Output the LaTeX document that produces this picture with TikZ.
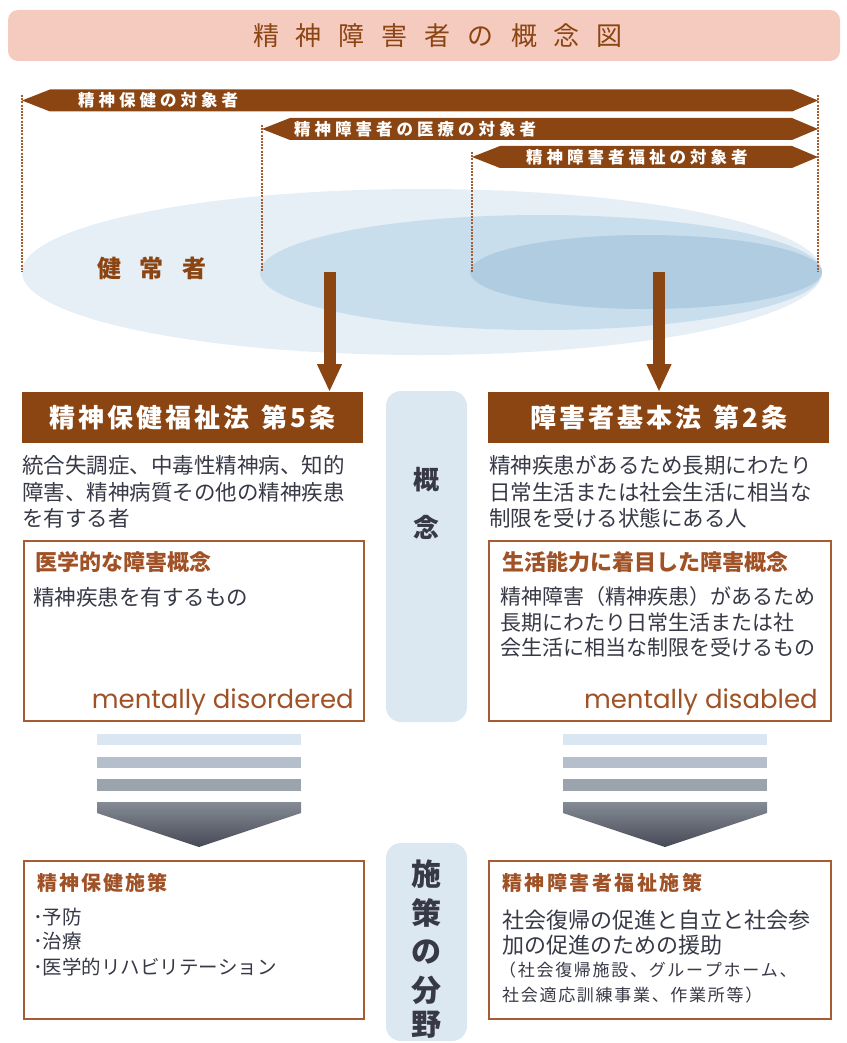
\documentclass[tikz,border=0pt]{standalone}
\usepackage{fontspec}
\setmainfont{Noto Sans CJK JP}
\newfontfamily\poppins{Poppins}
\usetikzlibrary{arrows.meta}
\definecolor{brn}{RGB}{139,69,19}
\definecolor{brnline}{RGB}{166,92,48}
\definecolor{brntxt}{RGB}{160,82,38}
\definecolor{pinkbg}{RGB}{246,203,191}
\definecolor{ell1}{RGB}{230,239,246}
\definecolor{ell2}{RGB}{201,222,237}
\definecolor{ell3}{RGB}{175,204,225}
\definecolor{colbg}{RGB}{220,232,241}
\definecolor{txtgray}{RGB}{55,57,70}
\definecolor{st1}{RGB}{218,231,242}
\definecolor{st2}{RGB}{180,191,203}
\definecolor{st3}{RGB}{155,163,173}
\definecolor{chevtop}{RGB}{133,139,149}
\definecolor{chevbot}{RGB}{70,74,86}
\def\lspend{}
\newcommand\lsp[2]{\def\lspsep{\hspace{#1}}\hspace{-#1}\lspaux#2\lspend}
\def\lspaux#1{\ifx#1\lspend\else\lspsep#1\expandafter\lspaux\fi}
\tikzset{
 barlbl/.style={anchor=west, inner sep=0, text=white, font=\fontsize{16.5}{16.5}\selectfont\bfseries},
 guide/.style={draw=brnline, line width=2pt, dash pattern=on 2pt off 1.2pt},
 hdr/.style={fill=brn, draw=none, anchor=north west, minimum width=341pt, minimum height=51pt, inner sep=0, text=white, font=\fontsize{26}{26}\selectfont\bfseries},
 desc/.style={anchor=west, inner sep=0, text=txtgray, font=\fontsize{21.5}{26}\selectfont},
 cbox/.style={draw=brnline, line width=1.6pt, fill=white, anchor=north west, inner sep=0},
 ctitle/.style={anchor=west, inner sep=0, text=brntxt, font=\fontsize{22}{22}\selectfont\bfseries},
 ptitle/.style={anchor=west, inner sep=0, text=brntxt, font=\fontsize{20}{20}\selectfont\bfseries},
 eng/.style={anchor=east, inner sep=0, text=brntxt, font=\fontsize{26}{26}\poppins},
 col/.style={fill=colbg, rounded corners=15pt},
 coltxt/.style={inner sep=0, text=txtgray, font=\fontsize{26}{26}\selectfont\bfseries},
 bigarrow/.style={draw=brn, line width=12pt, -{Triangle[length=28pt,width=23pt]}},
}
\begin{document}
\begin{tikzpicture}[x=1pt,y=-1pt]
\useasboundingbox (0,0) rectangle (846,1043);
% title
\fill[pinkbg, rounded corners=10pt] (8,10) rectangle (840,61);
\node[font=\fontsize{26}{26}\selectfont, text=brn, inner sep=0] (title) at (438,36) {\lsp{17pt}{精神障害者の概念図}};
% ellipses
\fill[ell1] (422,272) ellipse [x radius=400pt, y radius=83pt];
\fill[ell2] (541,272.5) ellipse [x radius=281pt, y radius=57.5pt];
\fill[ell3] (646,272) ellipse [x radius=176pt, y radius=37pt];
\node[font=\fontsize{24}{24}\selectfont\bfseries, text=brn, inner sep=0] (kenjo) at (152,268) {\lsp{19pt}{健常者}};
% guides
\draw[guide] (22,95) -- (22,272);
\draw[guide] (262,125) -- (262,272);
\draw[guide] (472,152) -- (472,272);
\draw[guide] (818,95) -- (818,272);
% bars
\fill[brn] (22,100.5) -- (50,89.5) -- (792,89.5) -- (818,100.5) -- (792,111.5) -- (50,111.5) -- cycle;
\fill[brn] (262,129) -- (290,118) -- (792,118) -- (818,129) -- (792,140) -- (290,140) -- cycle;
\fill[brn] (472,157) -- (500,146) -- (792,146) -- (818,157) -- (792,168) -- (500,168) -- cycle;
\node[barlbl] (b1) at (78,100.5) {\lsp{4pt}{精神保健の対象者}};
\node[barlbl] (b2) at (294,129) {\lsp{4pt}{精神障害者の医療の対象者}};
\node[barlbl] (b3) at (526,157) {\lsp{4pt}{精神障害者福祉の対象者}};
% headers
\node[hdr] (hdrL) at (22,392) {\lsp{3pt}{精神保健福祉法{\ }第5条}};
\node[hdr] (hdrR) at (488,392) {\lsp{3pt}{障害者基本法{\ }第2条}};
\coordinate (aL) at (329.5,272);
\coordinate (aR) at (659,272);
\draw[bigarrow] (aL) -- (hdrL.north -| aL);
\draw[bigarrow] (aR) -- (hdrR.north -| aR);
% descriptions
\node[desc] (dL1) at (22,465) {統合失調症、中毒性精神病、知的};
\node[desc] (dL2) at (22,492) {障害、精神病質その他の精神疾患};
\node[desc] (dL3) at (22,518) {を有する者};
\node[desc] (dR1) at (489,465) {精神疾患があるため長期にわたり};
\node[desc] (dR2) at (489,492) {日常生活または社会生活に相当な};
\node[desc] (dR3) at (489,518) {制限を受ける状態にある人};
% concept boxes
\node[cbox, minimum width=340pt, minimum height=180pt] (cL) at (23,540) {};
\node[ctitle] (cLt) at (35,562) {医学的な障害概念};
\node[desc] (cLd) at (33,597) {精神疾患を有するもの};
\node[eng] (cLe) at (354,702) {mentally disordered};
\node[cbox, minimum width=342pt, minimum height=180pt] (cR) at (488,540) {};
\node[ctitle] (cRt) at (502,562) {生活能力に着目した障害概念};
\node[desc, font=\fontsize{21}{26}\selectfont] (cRd1) at (500,597) {精神障害（精神疾患）があるため};
\node[desc, font=\fontsize{21}{26}\selectfont] (cRd2) at (500,623) {長期にわたり日常生活または社};
\node[desc, font=\fontsize{21}{26}\selectfont] (cRd3) at (500,648) {会生活に相当な制限を受けるもの};
\node[eng] (cRe) at (818,702) {mentally disabled};
% center columns
\fill[col] (386,391) rectangle (467,722);
\node[coltxt] (k1) at (426,480) {概};
\node[coltxt] (k2) at (426,527) {念};
\fill[col] (386,843) rectangle (467,1041);
\node[coltxt, font=\fontsize{30}{30}\selectfont\bfseries] (s1) at (426,874) {施};
\node[coltxt, font=\fontsize{30}{30}\selectfont\bfseries] (s2) at (426,913) {策};
\node[coltxt, font=\fontsize{30}{30}\selectfont\bfseries] (s3) at (426,952) {の};
\node[coltxt, font=\fontsize{30}{30}\selectfont\bfseries] (s4) at (426,990) {分};
\node[coltxt, font=\fontsize{30}{30}\selectfont\bfseries] (s5) at (426,1025) {野};
% stripes and chevrons
\foreach \xa/\xb/\xt in {97/301/199, 563/767/665}{
  \fill[st1] (\xa,734) rectangle (\xb,745);
  \fill[st2] (\xa,757) rectangle (\xb,768);
  \fill[st3] (\xa,779) rectangle (\xb,791);
  \shade[top color=chevtop, bottom color=chevbot] (\xa,802) -- (\xb,802) -- (\xb,813) -- (\xt,847) -- (\xa,813) -- cycle;
}
% policy boxes
\node[cbox, minimum width=340pt, minimum height=158pt] (pL) at (23,860) {};
\node[ptitle] (pLt) at (37,883) {\lsp{2pt}{精神保健施策}};
\node[desc, font=\fontsize{19.5}{24}\selectfont] (pL1) at (33,917) {･予防};
\node[desc, font=\fontsize{19.5}{24}\selectfont] (pL2) at (33,941) {･治療};
\node[desc, font=\fontsize{19.5}{24}\selectfont] (pL3) at (33,967) {･医学的リハビリテーション};
\node[cbox, minimum width=342pt, minimum height=158pt] (pR) at (488,860) {};
\node[ptitle] (pRt) at (502,883) {\lsp{2.5pt}{精神障害者福祉施策}};
\node[desc, font=\fontsize{22}{26}\selectfont] (pR1) at (502,920) {社会復帰の促進と自立と社会参};
\node[desc, font=\fontsize{22}{26}\selectfont] (pR2) at (502,945) {加の促進のための援助};
\node[desc, font=\fontsize{17}{20}\selectfont] (pR3) at (499,970) {\lsp{1.7pt}{（社会復帰施設、グループホーム、}};
\node[desc, font=\fontsize{17}{20}\selectfont] (pR4) at (502,995) {\lsp{1.7pt}{社会適応訓練事業、作業所等）}};
\end{tikzpicture}
\end{document}
